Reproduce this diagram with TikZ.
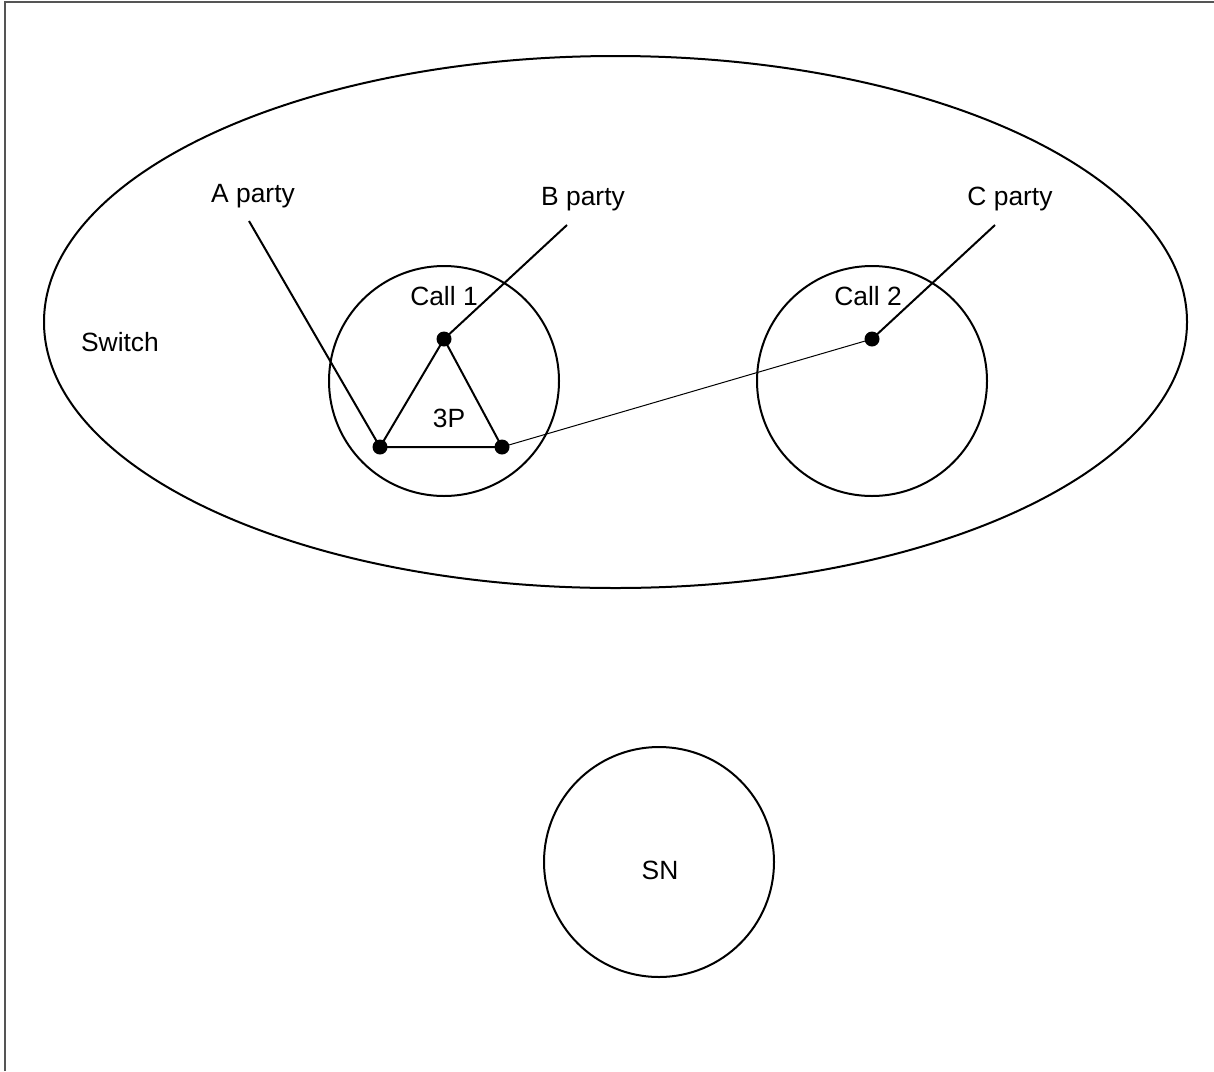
\documentclass[tikz,border=0pt]{standalone}
\usepackage{fontspec}
\setmainfont{Liberation Sans}
\usepackage{tikz}
\usetikzlibrary{shapes.geometric}
\definecolor{marco}{HTML}{555555}

\begin{document}
\begin{tikzpicture}[x=0.5pt, y=-0.5pt,
      elipse/.style={ellipse, draw, line width=1pt, minimum width=571.5pt,
                     minimum height=266pt, inner sep=0pt},
      circulo/.style={circle, draw, line width=1pt, minimum size=115pt, inner sep=0pt},
      punto/.style={circle, fill, minimum size=7.5pt, inner sep=0pt},
      etiqueta/.style={font=\fontsize{13.2}{15}\selectfont, inner sep=0pt},
      linea/.style={draw, line width=1pt},
      lineafina/.style={draw, line width=0.5pt}]

    \useasboundingbox (0,0) rectangle (1214,1071);
    \draw[marco, line width=1pt] (5,1071) -- (5,1.5) -- (1214,1.5);

    \node[elipse] (sw) at (615.5,322) {};
    \node[circulo] (c1) at (444,381) {};
    \node[circulo] (c2) at (872,381) {};
    \node[circulo] (sn) at (659,862) {};

    \node[etiqueta] at (120,342) {Switch};
    \node[etiqueta] at (444,296) {Call 1};
    \node[etiqueta] at (868,296) {Call 2};
    \node[etiqueta] at (449,418) {3P};
    \node[etiqueta] at (660,870) {SN};

    \node[etiqueta] (apty) at (253,196) {A party};
    \node[etiqueta] (bpty) at (583,199) {B party};
    \node[etiqueta] (cpty) at (1010,199) {C party};
    \coordinate (afin) at (249,221);
    \coordinate (bfin) at (567,225);
    \coordinate (cfin) at (995,225);

    \node[punto] (pa) at (380,447) {};
    \node[punto] (pb) at (444,339) {};
    \node[punto] (pd) at (502,447) {};
    \node[punto] (pc) at (872,339) {};

    \draw[linea] (afin) -- (pa.center);
    \draw[linea] (bfin) -- (pb.center);
    \draw[linea] (cfin) -- (pc.center);
    \draw[linea] (pa.center) -- (pb.center) -- (pd.center) -- cycle;
    \draw[lineafina] (pd.center) -- (pc.center);
  \end{tikzpicture}
\end{document}
